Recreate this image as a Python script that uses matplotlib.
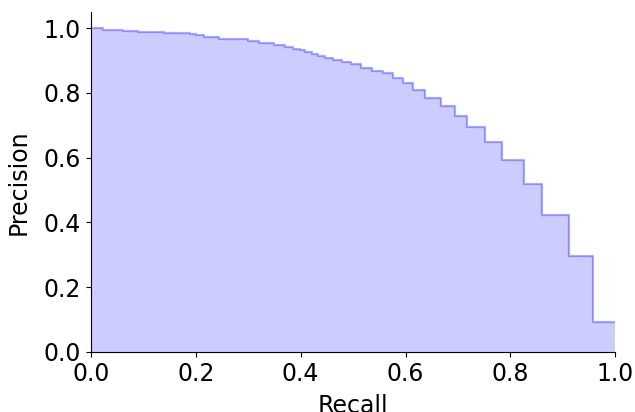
import numpy as np
import matplotlib
matplotlib.use("Agg")
import matplotlib.pyplot as plt

# recall breakpoints (ascending) and precision holding from each breakpoint to the next
recall = [0.0, 0.023, 0.061, 0.09, 0.14, 0.19, 0.20, 0.215, 0.245, 0.30,
          0.32, 0.35, 0.37, 0.385, 0.398, 0.408, 0.421, 0.434, 0.447, 0.461,
          0.478, 0.497, 0.516, 0.536, 0.558, 0.576, 0.595, 0.615, 0.637, 0.667,
          0.695, 0.718, 0.752, 0.784, 0.825, 0.860, 0.911, 0.958, 1.0]
precision = [1.0, 0.994, 0.990, 0.988, 0.986, 0.983, 0.979, 0.972, 0.965, 0.960,
             0.954, 0.948, 0.943, 0.937, 0.931, 0.925, 0.920, 0.914, 0.908, 0.902,
             0.896, 0.889, 0.878, 0.869, 0.861, 0.847, 0.830, 0.809, 0.785, 0.759,
             0.730, 0.694, 0.648, 0.592, 0.517, 0.423, 0.297, 0.091, 0.091]

fig = plt.figure(figsize=(6.35, 4.12), dpi=100)
ax = fig.add_axes([0.143, 0.146, 0.826, 0.825])

ax.step(recall, precision, color='b', alpha=0.32, where='post', linewidth=1.6)
ax.fill_between(recall, precision, step='post', alpha=0.2, color='b', linewidth=0)

ax.set_xlim([0.0, 1.0])
ax.set_ylim([0.0, 1.05])
ax.set_xlabel('Recall', fontsize=17, labelpad=6)
ax.set_ylabel('Precision', fontsize=17, labelpad=9)
ax.tick_params(labelsize=17)
ax.spines['top'].set_visible(False)
ax.spines['right'].set_visible(False)

fig.savefig('out.png', dpi=100)
